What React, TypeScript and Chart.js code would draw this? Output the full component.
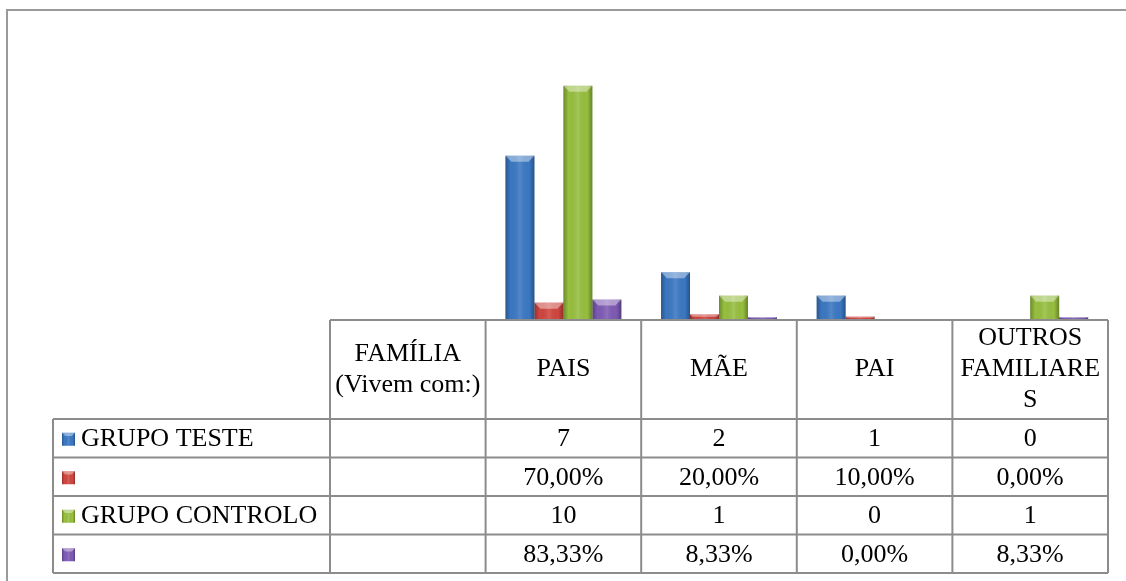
import React, { useEffect, useRef } from "react";
import { Chart, registerables } from "chart.js";

Chart.register(...registerables);

// ---- data ----
const categories: string[][] = [
  ["FAMÍLIA", "(Vivem com:)"],
  ["PAIS"],
  ["MÃE"],
  ["PAI"],
  ["OUTROS", "FAMILIARE", "S"],
];
const seriesNames = ["GRUPO TESTE", "", "GRUPO CONTROLO", ""];
const grupoTeste = [null, 7, 2, 1, 0];
const grupoTestePct = [null, 0.7, 0.2, 0.1, 0];
const grupoControlo = [null, 10, 1, 0, 1];
const grupoControloPct = [null, 0.8333, 0.0833, 0, 0.0833];
const seriesIsPct = [false, true, false, true];
const seriesColors = ["#3B78C3", "#D0463F", "#97BF3F", "#7E5BB5"];
const yMax = 12;

const FONT = "26px 'Liberation Serif', 'Times New Roman', serif";
const GRID = "#8c8c8c";

function fmt(v: number | null, pct: boolean): string {
  if (v === null) return "";
  if (pct) return (v * 100).toFixed(2).replace(".", ",") + "%";
  return String(v);
}

function bevel(ctx: CanvasRenderingContext2D, left: number, top: number, w: number, h: number) {
  if (h < 1 || w < 1) return;
  ctx.save();
  const g = ctx.createLinearGradient(left, 0, left + w, 0);
  g.addColorStop(0, "rgba(0,0,0,0.28)");
  g.addColorStop(0.18, "rgba(0,0,0,0)");
  g.addColorStop(0.5, "rgba(255,255,255,0.12)");
  g.addColorStop(0.82, "rgba(0,0,0,0)");
  g.addColorStop(1, "rgba(0,0,0,0.32)");
  ctx.fillStyle = g;
  ctx.fillRect(left, top, w, h);
  const b = Math.min(6, h / 2, w / 4);
  ctx.beginPath();
  ctx.moveTo(left, top);
  ctx.lineTo(left + w, top);
  ctx.lineTo(left + w - b, top + b);
  ctx.lineTo(left + b, top + b);
  ctx.closePath();
  ctx.fillStyle = "rgba(255,255,255,0.4)";
  ctx.fill();
  ctx.restore();
}

const bevelPlugin = {
  id: "bevel",
  afterDatasetsDraw(chart: any) {
    const ctx = chart.ctx;
    chart.data.datasets.forEach((_: any, di: number) => {
      const meta = chart.getDatasetMeta(di);
      meta.data.forEach((el: any) => {
        const p = el.getProps(["x", "y", "base", "width"], true);
        if (p.y == null || isNaN(p.y)) return;
        const top = Math.min(p.y, p.base);
        const h = Math.abs(p.base - p.y);
        bevel(ctx, p.x - p.width / 2, top, p.width, h);
      });
    });
  },
};

const tablePlugin = {
  id: "dataTable",
  afterDraw(chart: any) {
    const ctx: CanvasRenderingContext2D = chart.ctx;
    const xs = chart.scales.x;
    const n = categories.length;
    const half = (xs.getPixelForValue(1) - xs.getPixelForValue(0)) / 2;
    const colEdges: number[] = [];
    for (let i = 0; i < n; i++) colEdges.push(xs.getPixelForValue(i) - half);
    colEdges.push(xs.getPixelForValue(n - 1) + half);
    const tableLeft = colEdges[0];
    const tableRight = colEdges[n];
    const headerTop = chart.chartArea.bottom + 1;
    const headerBottom = 419;
    const rowH = 38.5;
    const legendLeft = 53;
    const rowsY = [headerBottom];
    for (let r = 0; r < 4; r++) rowsY.push(headerBottom + rowH * (r + 1));

    ctx.save();
    // outer frame
    ctx.strokeStyle = "#9a9a9a";
    ctx.lineWidth = 2;
    ctx.beginPath();
    ctx.moveTo(7, 581);
    ctx.lineTo(7, 10);
    ctx.lineTo(1126, 10);
    ctx.stroke();

    // grid
    ctx.strokeStyle = GRID;
    ctx.lineWidth = 2;
    ctx.beginPath();
    ctx.moveTo(tableLeft, headerTop);
    ctx.lineTo(tableRight, headerTop);
    rowsY.forEach((y) => {
      ctx.moveTo(legendLeft, y);
      ctx.lineTo(tableRight, y);
    });
    colEdges.forEach((x) => {
      ctx.moveTo(x, headerTop);
      ctx.lineTo(x, rowsY[4]);
    });
    ctx.moveTo(legendLeft, headerBottom);
    ctx.lineTo(legendLeft, rowsY[4]);
    ctx.stroke();

    // header text
    ctx.fillStyle = "#000";
    ctx.font = FONT;
    ctx.textAlign = "center";
    ctx.textBaseline = "middle";
    const hMid = (headerTop + headerBottom) / 2;
    const lh = 31;
    categories.forEach((lines, i) => {
      const cx = xs.getPixelForValue(i);
      const start = hMid - ((lines.length - 1) * lh) / 2;
      lines.forEach((t, k) => ctx.fillText(t, cx, start + k * lh));
    });

    // rows
    const rows = [grupoTeste, grupoTestePct, grupoControlo, grupoControloPct];
    rows.forEach((vals, r) => {
      const cy = (rowsY[r] + rowsY[r + 1]) / 2 + 1;
      // legend key
      const sw = 13;
      ctx.fillStyle = seriesColors[r];
      ctx.fillRect(62, cy - sw / 2, sw, sw);
      bevel(ctx, 62, cy - sw / 2, sw, sw);
      ctx.fillStyle = "#000";
      ctx.textAlign = "left";
      ctx.fillText(seriesNames[r], 81, cy);
      ctx.textAlign = "center";
      vals.forEach((v, i) => {
        ctx.fillText(fmt(v as any, seriesIsPct[r]), xs.getPixelForValue(i), cy);
      });
    });
    ctx.restore();
  },
};

export default function App() {
  const ref = useRef<HTMLCanvasElement>(null);
  useEffect(() => {
    const canvas = ref.current!;
    const labels = categories.map((c) => c.join(" "));
    const chart = new Chart(canvas, {
      type: "bar",
      data: {
        labels,
        datasets: [grupoTeste, grupoTestePct, grupoControlo, grupoControloPct].map((d, i) => ({
          label: seriesNames[i] || " ",
          data: d as any,
          backgroundColor: seriesColors[i],
          borderWidth: 0,
          categoryPercentage: 0.745,
          barPercentage: 1,
        })),
      },
      options: {
        responsive: false,
        animation: false,
        layout: { padding: { left: 330, right: 18, top: 39, bottom: 262 } },
        plugins: { legend: { display: false }, tooltip: { enabled: false } },
        scales: {
          x: { display: false, offset: true },
          y: { display: false, min: 0, max: yMax },
        },
      },
      plugins: [bevelPlugin, tablePlugin],
    });
    return () => chart.destroy();
  }, []);
  return (
    <div style={{ position: "fixed", left: 0, top: 0, width: 1126, height: 581, background: "#fff" }}>
      <canvas ref={ref} width={1126} height={581} />
    </div>
  );
}
